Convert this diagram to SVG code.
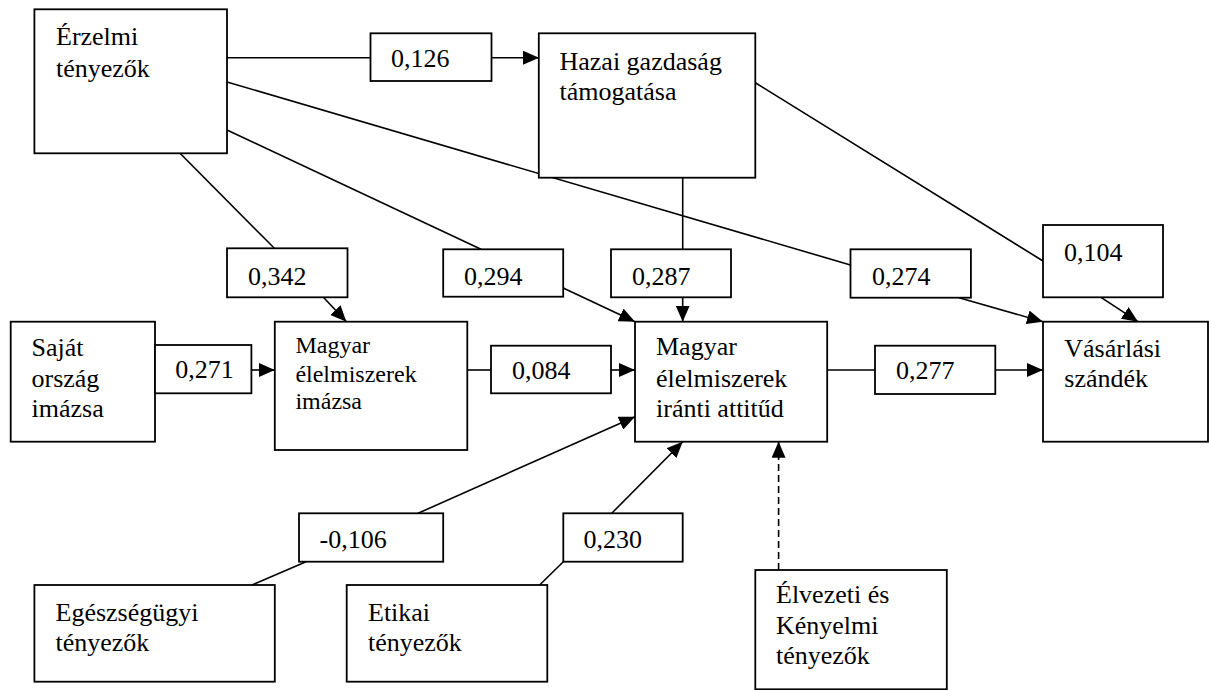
<svg xmlns="http://www.w3.org/2000/svg" width="1209" height="690" viewBox="0 0 1209 690">
<style>
.box{fill:#fff;stroke:#000;stroke-width:1.8}
.t{font-family:"Liberation Serif","Times New Roman",serif;font-size:26px;fill:#000}
.ts{font-family:"Liberation Serif","Times New Roman",serif;font-size:24px;fill:#000}
.c line{stroke:#000;stroke-width:1.6;fill:none}
.a{marker-end:url(#ah)}
.d{stroke-dasharray:7 4}
</style>
<defs>
<marker id="ah" viewBox="0 0 16 14" refX="16" refY="7" markerWidth="16" markerHeight="14" markerUnits="userSpaceOnUse" orient="auto">
<path d="M0,0 L16,7 L0,14 Z" fill="#000"/>
</marker>
</defs>
<g class="c" id="connectors">
<line x1="227" y1="57.7" x2="370.5" y2="57.7"/>
<line class="a" x1="491.5" y1="57.7" x2="539" y2="57.7"/>
<line x1="227" y1="82" x2="850.5" y2="265"/>
<line class="a" x1="959" y1="297.7" x2="1043" y2="321.7"/>
<line x1="227" y1="130" x2="481" y2="249.3"/>
<line class="a" x1="563.2" y1="288" x2="635" y2="321.7"/>
<line x1="180" y1="153.3" x2="274.4" y2="248.3"/>
<line class="a" x1="323.4" y1="297.3" x2="346.4" y2="321.7"/>
<line class="a" x1="251.4" y1="370" x2="274.8" y2="370"/>
<line x1="467.3" y1="370" x2="491" y2="370"/>
<line class="a" x1="611" y1="370" x2="635" y2="370"/>
<line x1="682.7" y1="177.7" x2="682.7" y2="249.3"/>
<line class="a" x1="682.7" y1="297.3" x2="682.7" y2="321.7"/>
<line x1="755.3" y1="82.7" x2="1043" y2="261"/>
<line class="a" x1="1101" y1="297.3" x2="1138" y2="321.7"/>
<line x1="827.2" y1="370" x2="875" y2="370"/>
<line class="a" x1="995.3" y1="370" x2="1043" y2="370"/>
<line x1="252" y1="585" x2="306" y2="561.7"/>
<line class="a" x1="418" y1="513.3" x2="635" y2="416.7"/>
<line x1="539.6" y1="585" x2="563.3" y2="561.7"/>
<line class="a" x1="611.7" y1="513.3" x2="682.7" y2="441.7"/>
<line class="a d" x1="778.6" y1="570" x2="778.6" y2="441.7"/>
</g>
<g id="erzelmi"><rect class="box" x="34.4" y="9.3" width="192.6" height="144"/><text class="t" x="56" y="45">Érzelmi</text><text class="t" x="56" y="76.7">tényezők</text></g>
<g id="hazai"><rect class="box" x="538.8" y="33.3" width="216.5" height="144.4"/><text class="t" x="559.5" y="69.5">Hazai gazdaság</text><text class="t" x="559.5" y="100">támogatása</text></g>
<g id="sajat"><rect class="box" x="10.7" y="321.7" width="144.3" height="120"/><text class="t" x="31.5" y="356">Saját</text><text class="t" x="31.5" y="387">ország</text><text class="t" x="31.5" y="417">imázsa</text></g>
<g id="imazsa"><rect class="box" x="274.8" y="321.7" width="192.5" height="128.3"/><text class="ts" x="295.4" y="353">Magyar</text><text class="ts" x="295.4" y="381.5">élelmiszerek</text><text class="ts" x="295.4" y="409.3">imázsa</text></g>
<g id="attitud"><rect class="box" x="635" y="321.7" width="192.2" height="120"/><text class="t" x="656" y="355">Magyar</text><text class="t" x="656" y="386.7">élelmiszerek</text><text class="t" x="656" y="416.7">iránti attitűd</text></g>
<g id="vasarlasi"><rect class="box" x="1043" y="321.7" width="165" height="120"/><text class="t" x="1064.3" y="356.7">Vásárlási</text><text class="t" x="1064.3" y="386.7">szándék</text></g>
<g id="egeszseg"><rect class="box" x="34.4" y="585" width="240.4" height="96.7"/><text class="t" x="55.5" y="620.7">Egészségügyi</text><text class="t" x="55.5" y="650.7">tényezők</text></g>
<g id="etikai"><rect class="box" x="346.7" y="585" width="200.6" height="96.7"/><text class="t" x="368" y="620.7">Etikai</text><text class="t" x="368" y="650.7">tényezők</text></g>
<g id="elvezeti"><rect class="box" x="755.3" y="570" width="191.5" height="119.3"/><text class="t" x="776" y="603">Élvezeti és</text><text class="t" x="776" y="634">Kényelmi</text><text class="t" x="776" y="664">tényezők</text></g>
<g id="l0126"><rect class="box" x="370.5" y="33.3" width="121" height="47.7"/><text class="t" x="391" y="67">0,126</text></g>
<g id="l0342"><rect class="box" x="227" y="248.3" width="120.5" height="49"/><text class="t" x="248" y="284.5">0,342</text></g>
<g id="l0294"><rect class="box" x="443.2" y="249.3" width="120" height="47.4"/><text class="t" x="464" y="284.5">0,294</text></g>
<g id="l0287"><rect class="box" x="611" y="249.3" width="120" height="48"/><text class="t" x="632" y="284.5">0,287</text></g>
<g id="l0274"><rect class="box" x="850.5" y="249.3" width="120.4" height="48.4"/><text class="t" x="872" y="284.5">0,274</text></g>
<g id="l0104"><rect class="box" x="1043" y="225" width="120" height="72.3"/><text class="t" x="1064" y="260.7">0,104</text></g>
<g id="l0271"><rect class="box" x="155" y="345" width="96.4" height="48.3"/><text class="t" x="175.3" y="378">0,271</text></g>
<g id="l0084"><rect class="box" x="491" y="345.7" width="120" height="47.6"/><text class="t" x="512" y="379">0,084</text></g>
<g id="l0277"><rect class="box" x="875" y="345.7" width="120.3" height="48.3"/><text class="t" x="896" y="379">0,277</text></g>
<g id="l0106"><rect class="box" x="299" y="513.3" width="144.2" height="48.4"/><text class="t" x="319.6" y="548.3">-0,106</text></g>
<g id="l0230"><rect class="box" x="563.3" y="513.3" width="119.4" height="48.4"/><text class="t" x="583.6" y="548.3">0,230</text></g>
</svg>
